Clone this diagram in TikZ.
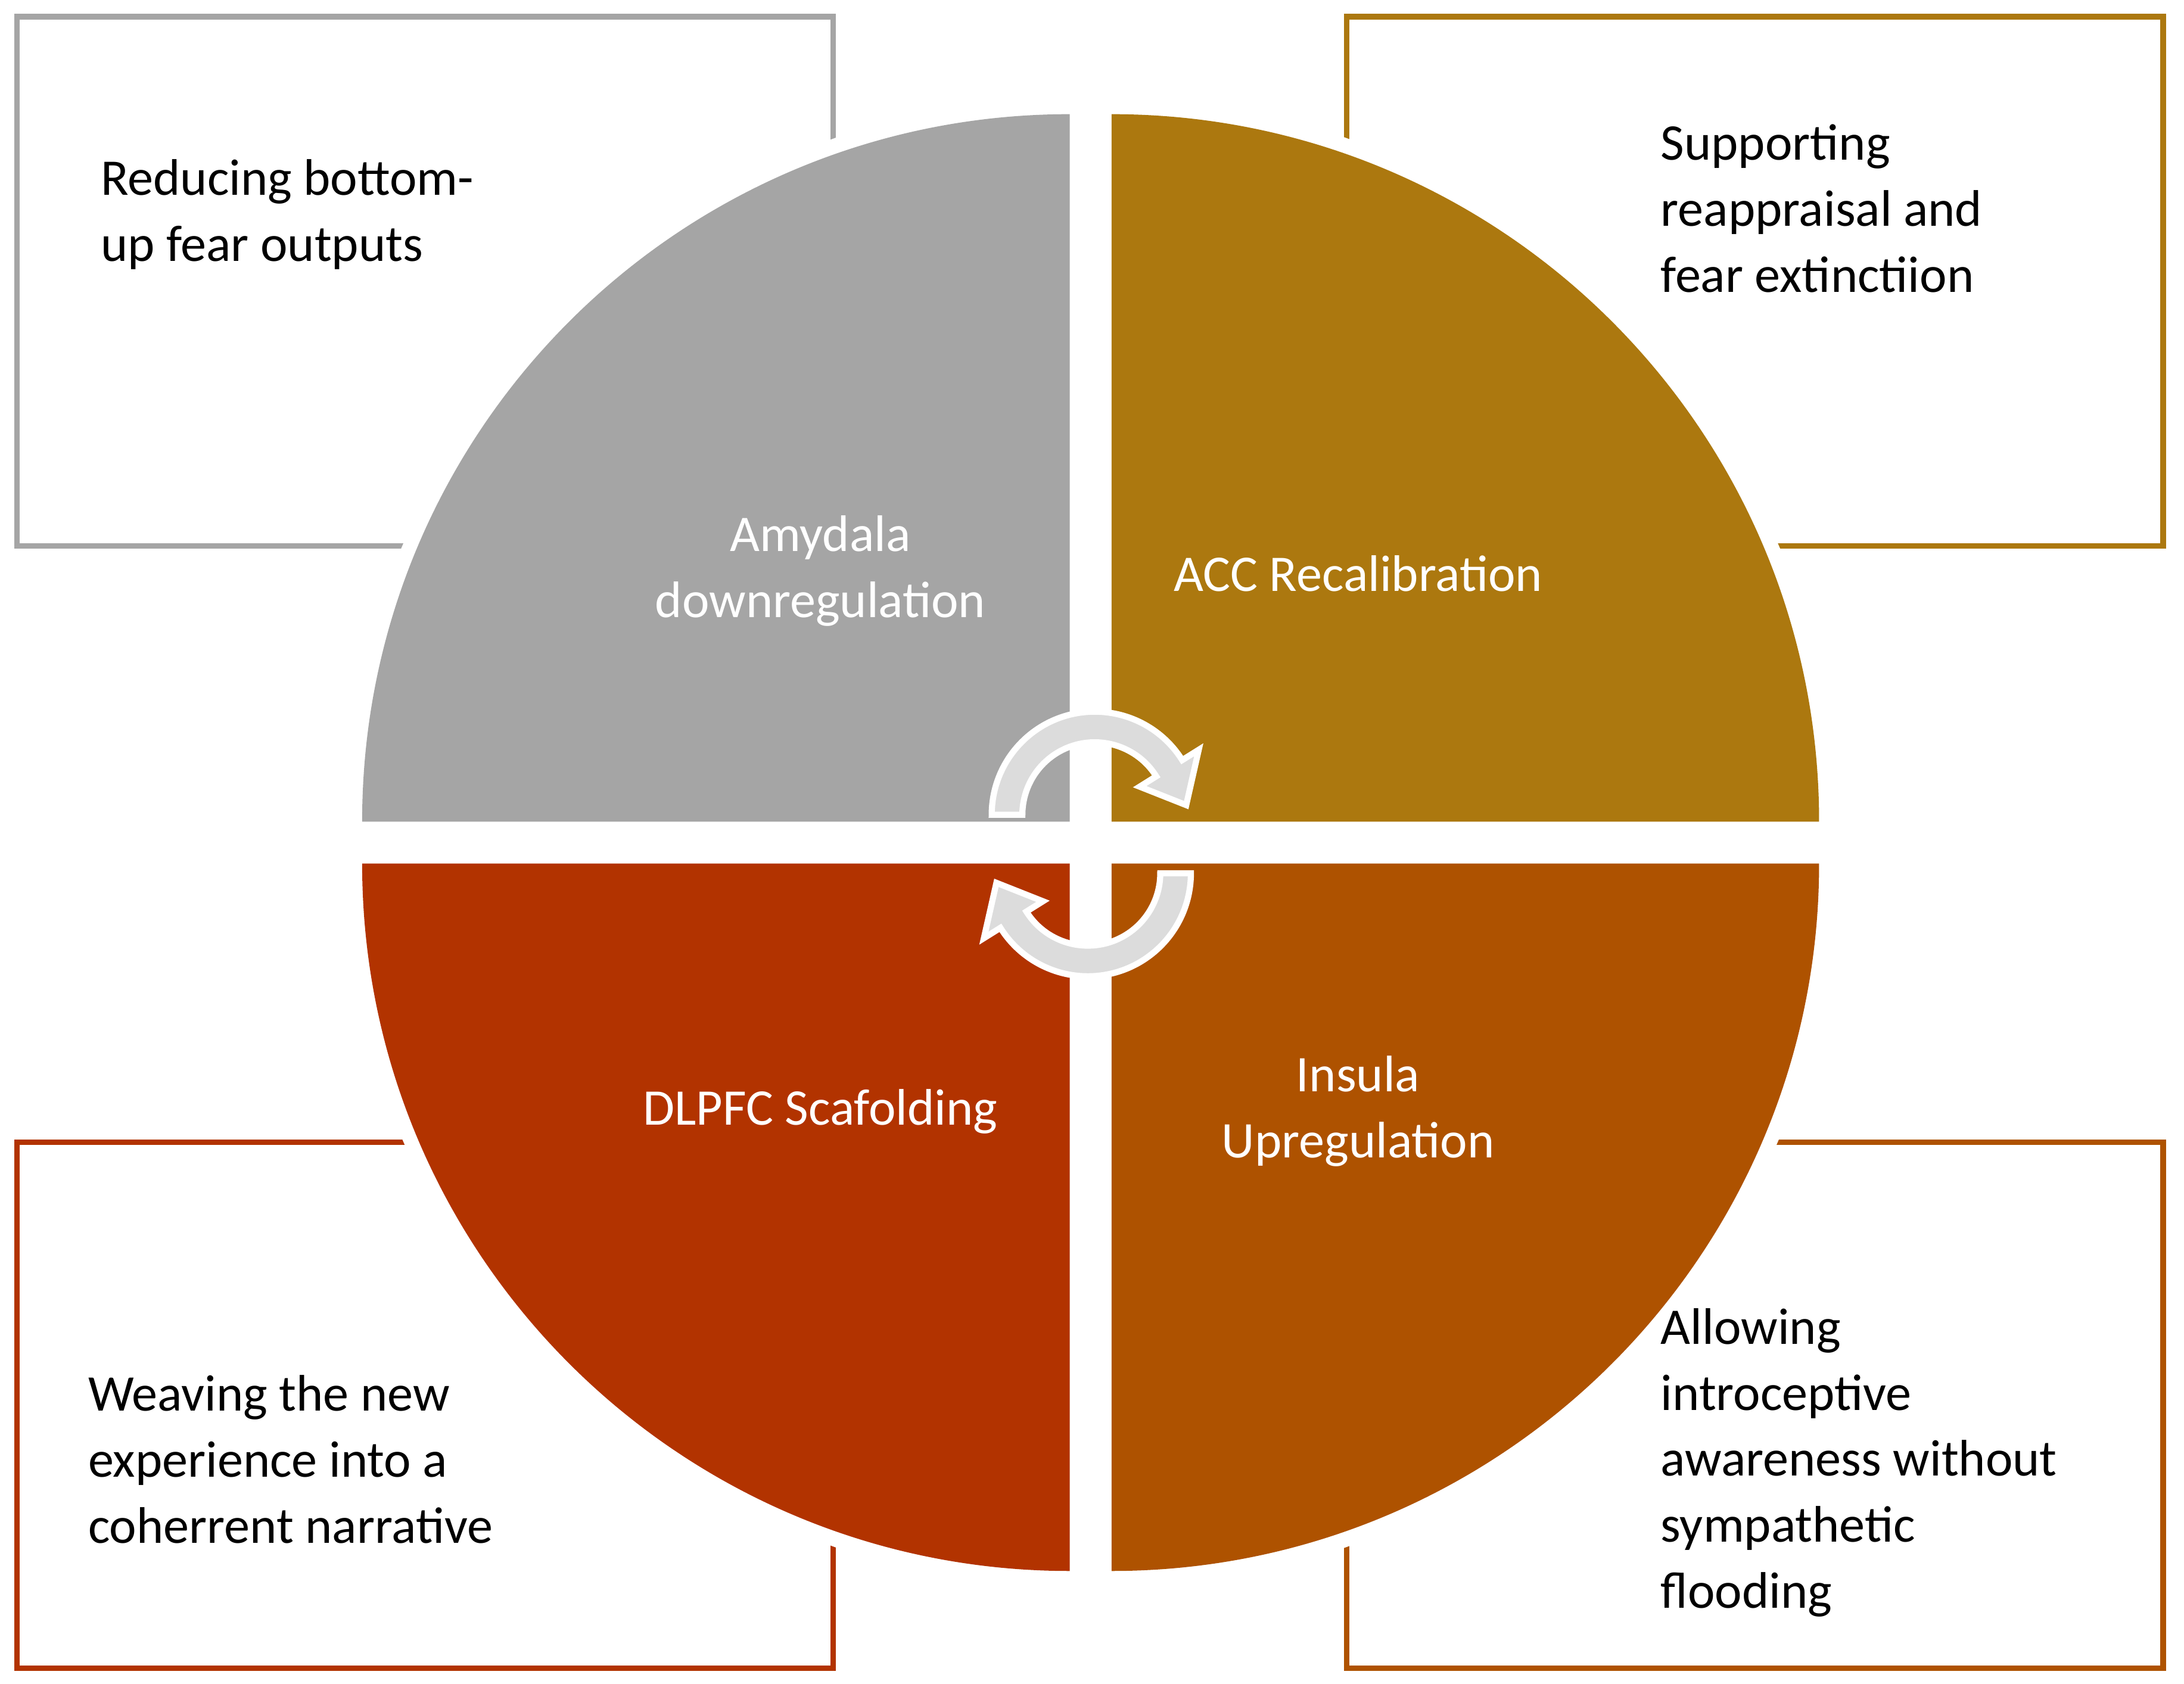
\documentclass[tikz,border=0pt]{standalone}
\usepackage{fontspec}
\setmainfont{Carlito}
\usetikzlibrary{calc}
\definecolor{cgray}{HTML}{A5A5A5}
\definecolor{cgold}{HTML}{AC780F}
\definecolor{corange}{HTML}{AE5200}
\definecolor{cred}{HTML}{B23300}
\definecolor{carrow}{HTML}{DCDCDC}
\begin{document}
\begin{tikzpicture}[x=0.02cm,y=0.02cm,
  box/.style={line width=2.2pt},
  btxt/.style={anchor=north west,align=left,font=\fontsize{21}{27}\selectfont,text=black,inner sep=0pt},
  qtxt/.style={align=center,font=\fontsize{21}{27}\selectfont,text=white},
  arr/.style={fill=carrow,draw=white,line width=2.5pt,line join=miter}]
\useasboundingbox (0,0) rectangle (1568,1209);
% boxes
\draw[box,draw=cgray] (12,1197) rectangle (598,817);
\draw[box,draw=cgold] (967,1197) rectangle (1553,817);
\draw[box,draw=cred] (12,389) rectangle (598,11);
\draw[box,draw=corange] (967,389) rectangle (1553,11);
% erase box parts behind circle
\fill[white] (783,604) circle[radius=538];
% quadrants
\fill[cgray] (768,619) -- ++(-508,0) arc[start angle=180,end angle=90,radius=508] -- cycle;
\fill[cgold] (798,619) -- ++(0,508) arc[start angle=90,end angle=0,radius=508] -- cycle;
\fill[cred] (768,589) -- ++(-508,0) arc[start angle=180,end angle=270,radius=508] -- cycle;
\fill[corange] (798,589) -- ++(508,0) arc[start angle=0,end angle=-90,radius=508] -- cycle;
% quadrant labels
\node[qtxt] (q1) at (589,799) {Amydala\\downregulation};
\node[qtxt] (q2) at (975,797) {ACC Recalibration};
\node[qtxt] (q3) at (589,411) {DLPFC Scafolding};
\node[qtxt] (q4) at (975,411) {Insula\\Upregulation};
% box texts
\node[btxt] (t1) at (72,1095) {Reducing bottom-\\up fear outputs};
\node[btxt] (t2) at (1192,1120) {Supporting\\reappraisal and\\fear extinctiion};
\node[btxt] (t3) at (63,222) {Weaving the new\\experience into a\\coherrent narrative};
\node[btxt] (t4) at (1192,270) {Allowing\\introceptive\\awareness without\\sympathetic\\flooding};
% circular arrows
\coordinate (c1) at (786,624);
\draw[arr] ($(c1)+(180:74)$) arc[start angle=180,end angle=32,radius=74]
  -- ($(c1)+(32:88)$) -- ($(c1)+(6:66)$) -- ($(c1)+(32:38)$) -- ($(c1)+(32:52)$)
  arc[start angle=32,end angle=180,radius=52] -- cycle;
\coordinate (c2) at (781,582);
\draw[arr] ($(c2)+(0:74)$) arc[start angle=0,end angle=-148,radius=74]
  -- ($(c2)+(-148:88)$) -- ($(c2)+(-174:66)$) -- ($(c2)+(-148:38)$) -- ($(c2)+(-148:52)$)
  arc[start angle=-148,end angle=0,radius=52] -- cycle;
\end{tikzpicture}
\end{document}
